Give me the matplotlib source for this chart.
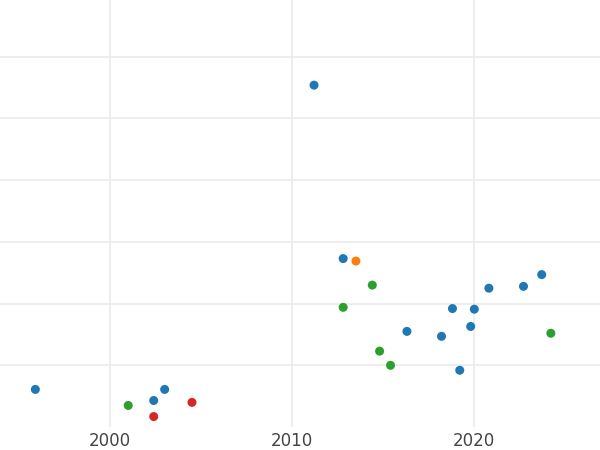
import matplotlib
matplotlib.use('Agg')
import matplotlib.pyplot as plt

# values (y in gridline units)
years = [1995.9, 2001.0, 2002.4, 2002.4, 2003.0, 2004.5, 2011.2, 2012.8, 2013.5, 2012.8,
         2014.4, 2014.8, 2015.4, 2016.3, 2018.2, 2018.8, 2019.2, 2019.8, 2020.0, 2020.8,
         2022.7, 2023.7, 2024.2]
values = [0.61, 0.35, 0.43, 0.17, 0.61, 0.40, 5.54, 2.73, 2.69, 1.94,
          2.30, 1.23, 1.00, 1.55, 1.47, 1.92, 0.92, 1.63, 1.91, 2.25,
          2.28, 2.47, 1.52]
groups = ['b', 'g', 'b', 'r', 'b', 'r', 'b', 'b', 'o', 'g',
          'g', 'g', 'g', 'b', 'b', 'b', 'b', 'b', 'b', 'b',
          'b', 'b', 'g']
palette = {'b': '#1f77b4', 'o': '#ff7f0e', 'g': '#2ca02c', 'r': '#d62728'}

fig = plt.figure(figsize=(6, 4.5), dpi=100)
ax = fig.add_axes([0, 0.051, 1, 0.949])
ax.scatter(years, values, c=[palette[g] for g in groups], s=42, zorder=3, linewidths=0)

ax.set_xlim(1993.96, 2026.9)
ax.set_ylim(0, 6.92)
ax.set_xticks([2000, 2010, 2020])
ax.set_yticks([1, 2, 3, 4, 5, 6])
ax.set_yticklabels([])
ax.tick_params(axis='both', length=0, labelsize=12, labelcolor='#444444')
ax.grid(True, color='#ebebeb', linewidth=1.2, zorder=0)
for s in ax.spines.values():
    s.set_visible(False)

fig.savefig('out.png', dpi=100)
